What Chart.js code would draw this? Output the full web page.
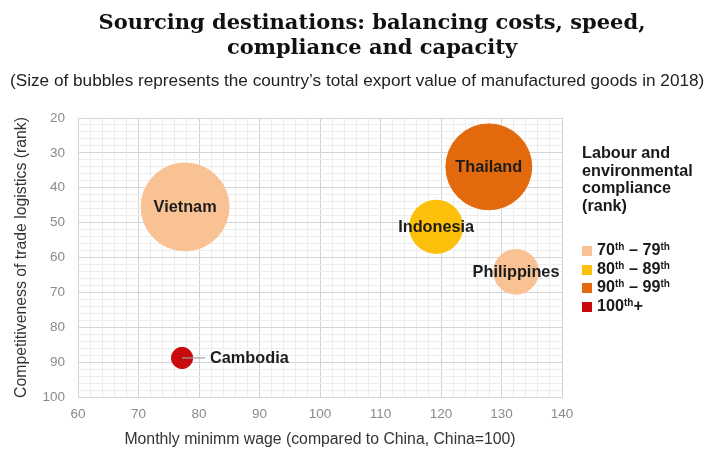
<html>
<head>
    <meta charset="UTF-8">
    <title>Sourcing destinations</title>
    <script src="https://cdn.jsdelivr.net/npm/chart.js"></script>
    <style>
        body { margin: 0; background: #fff; }
        #wrap { position: relative; width: 717px; height: 457px; }
        #chartCanvas { position: absolute; left: 0; top: 0; }
        #title {
            position: absolute; left: 0; top: 9px; width: 744px;
            text-align: center; font: bold 21px "DejaVu Serif", serif;
            line-height: 25px; color: #111;
        }
        #subtitle {
            position: absolute; left: 10px; top: 70px;
            font: 17.2px "Liberation Sans", Arial, sans-serif; line-height: 20px; color: #222;
            white-space: nowrap;
        }
        #legend {
            position: absolute; left: 582px; top: 144px;
            font: bold 16.2px "Liberation Sans", Arial, sans-serif; color: #1a1a1a;
        }
        #legend .head { line-height: 17.5px; margin-bottom: 26px; }
        #legend .item { line-height: 18.7px; white-space: nowrap; }
        #legend .box { display: inline-block; width: 10px; height: 10px; margin-right: 5px; vertical-align: -1px; }
        #legend sup { font-size: 10px; vertical-align: 5px; line-height: 0; }
    </style>
</head>
<body>
<div id="wrap">
    <canvas id="chartCanvas" width="717" height="457"></canvas>
    <div id="title">Sourcing destinations: balancing costs, speed,<br>compliance and capacity</div>
    <div id="subtitle">(Size of bubbles represents the country’s total export value of manufactured goods in 2018)</div>
    <div id="legend"></div>
</div>

<script>
    // countries and their values
    const countries = ['Vietnam', 'Thailand', 'Indonesia', 'Philippines', 'Cambodia'];
    const minWage = [77.7, 127.9, 119.2, 132.4, 77.2];        // China = 100
    const logisticsRank = [45.5, 34, 51.2, 64.1, 88.8];
    const exportValue = [189, 180, 69, 49, 11];               // US$ bn
    const complianceGroup = [0, 2, 1, 0, 3];

    const groupNames = [
        '70<sup>th</sup> – 79<sup>th</sup>',
        '80<sup>th</sup> – 89<sup>th</sup>',
        '90<sup>th</sup> – 99<sup>th</sup>',
        '100<sup>th</sup>+'
    ];
    const groupColours = ['#F9C295', '#FDC00A', '#E2690C', '#C8090E'];

    const xTicks = [60, 70, 80, 90, 100, 110, 120, 130, 140];
    const yTicks = [20, 30, 40, 50, 60, 70, 80, 90, 100];

    const labelSide = ['center', 'center', 'center', 'center', 'right'];

    // legend
    let legendHtml = '<div class="head">Labour and<br>environmental<br>compliance<br>(rank)</div>';
    groupNames.forEach((g, i) => {
        legendHtml += '<div class="item"><span class="box" style="background:' + groupColours[i] + '"></span>' + g + '</div>';
    });
    document.getElementById('legend').innerHTML = legendHtml;

    const bubbleLabels = {
        id: 'bubbleLabels',
        afterDatasetsDraw(chart) {
            const ctx = chart.ctx;
            const meta = chart.getDatasetMeta(0);
            ctx.save();
            ctx.font = 'bold 16.3px "Liberation Sans", Arial, sans-serif';
            ctx.fillStyle = '#1c1c1c';
            ctx.textBaseline = 'middle';
            meta.data.forEach((pt, i) => {
                if (labelSide[i] === 'right') {
                    ctx.strokeStyle = '#a0a0a0';
                    ctx.lineWidth = 1.2;
                    ctx.beginPath();
                    ctx.moveTo(pt.x, pt.y);
                    ctx.lineTo(pt.x + 23, pt.y);
                    ctx.stroke();
                    ctx.textAlign = 'left';
                    ctx.fillText(countries[i], pt.x + 28, pt.y + 1);
                } else {
                    ctx.textAlign = 'center';
                    ctx.fillText(countries[i], pt.x, pt.y + 1);
                }
            });
            ctx.restore();
        }
    };

    const points = countries.map((c, i) => ({
        x: minWage[i],
        y: logisticsRank[i],
        r: 3.2 * Math.sqrt(exportValue[i])
    }));

    const gridColour = (ctx) => (ctx.tick && ctx.tick.value % 10 === 0) ? '#d3d3d3' : '#ededed';
    const axisFont = { family: '"Liberation Sans", Arial, sans-serif', size: 15.8 };

    new Chart(document.getElementById('chartCanvas'), {
        type: 'bubble',
        data: {
            datasets: [{
                data: points,
                backgroundColor: complianceGroup.map(g => groupColours[g]),
                borderColor: complianceGroup.map(g => groupColours[g]),
                borderWidth: 1
            }]
        },
        options: {
            responsive: false,
            animation: false,
            events: [],
            layout: { padding: { left: 8, right: 155, top: 118, bottom: 4 } },
            plugins: {
                legend: { display: false },
                tooltip: { enabled: false }
            },
            scales: {
                x: {
                    type: 'linear',
                    min: xTicks[0],
                    max: xTicks[xTicks.length - 1],
                    afterFit(scale) { scale.height = 56; },
                    border: { color: '#d3d3d3' },
                    grid: { color: gridColour, drawTicks: false },
                    ticks: {
                        stepSize: 2,
                        autoSkip: false,
                        maxRotation: 0,
                        padding: 9,
                        color: '#8a8a8a',
                        font: { family: '"Liberation Sans", Arial, sans-serif', size: 13.5 },
                        callback: (v) => xTicks.includes(v) ? String(v) : ''
                    },
                    title: {
                        display: true,
                        text: 'Monthly minimm wage (compared to China, China=100)',
                        color: '#333',
                        font: axisFont
                    }
                },
                y: {
                    type: 'linear',
                    reverse: true,
                    min: yTicks[0],
                    max: yTicks[yTicks.length - 1],
                    afterFit(scale) { scale.width = 70; },
                    border: { color: '#d3d3d3' },
                    grid: { color: gridColour, drawTicks: false },
                    ticks: {
                        stepSize: 2,
                        autoSkip: false,
                        padding: 13,
                        color: '#8a8a8a',
                        font: { family: '"Liberation Sans", Arial, sans-serif', size: 13.5 },
                        callback: (v) => yTicks.includes(v) ? String(v) : ''
                    },
                    title: {
                        display: true,
                        text: 'Competitiveness of trade logistics (rank)',
                        color: '#333',
                        font: axisFont
                    }
                }
            }
        },
        plugins: [bubbleLabels]
    });
</script>
</body>
</html>
